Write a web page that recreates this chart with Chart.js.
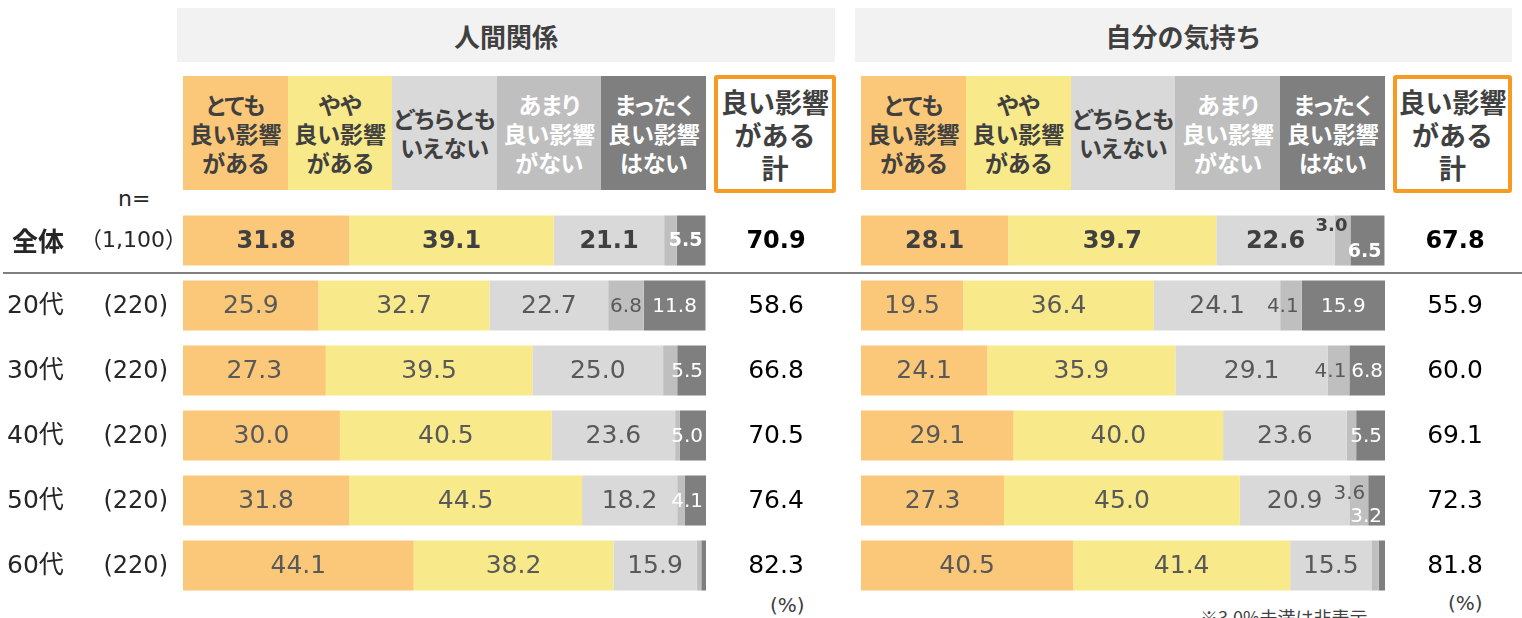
<!DOCTYPE html>
<html lang="ja">
<head>
<meta charset="UTF-8">
<title>良い影響がある 計</title>
<script src="https://cdn.jsdelivr.net/npm/chart.js"></script>
<style>
  body { margin: 0; width: 1522px; height: 618px; overflow: hidden; background: #fff; position: relative;
         font-family: 'DejaVu Sans', 'Noto Sans CJK JP', sans-serif; color: #262626; }
  .abs { position: absolute; }
  .title { background: #f2f2f2; color: #404040; font: bold 26px 'Noto Sans CJK JP', sans-serif;
           display: flex; align-items: center; justify-content: center; }
  .leg { display: flex; align-items: center; justify-content: center; text-align: center; white-space: nowrap;
         font: bold 23px/29px 'Noto Sans CJK JP', sans-serif; font-feature-settings: "palt"; }
  .tot { border: 4px solid #f59b23; border-radius: 3px; box-sizing: border-box; background: #fff; color: #404040;
         font: bold 27px/33px 'Noto Sans CJK JP', sans-serif; }
  .note { font: 20px 'DejaVu Sans', sans-serif; color: #404040; }
  canvas { position: absolute; }
</style>
</head>
<body>
<div id="hdr"></div>
<div class="abs" style="left:118px;top:186px;font-size:22px;">n=</div>
<div class="abs note" style="left:770px;top:593px;">(%)</div>
<div class="abs note" style="left:1448px;top:591px;">(%)</div>
<div class="abs" style="left:1200px;top:604px;font:18px 'Noto Sans CJK JP',sans-serif;color:#404040;">※3.0%未満は非表示</div>
<canvas id="relChart" width="850" height="418" style="left:0;top:200px;"></canvas>
<canvas id="selfChart" width="672" height="418" style="left:850px;top:200px;"></canvas>

<script>
  const rows = ['全体', '20代', '30代', '40代', '50代', '60代'];
  const ns = ['（1,100）', '(220)', '(220)', '(220)', '(220)', '(220)'];
  const cats = ['とても\n良い影響\nがある', 'やや\n良い影響\nがある', 'どちらとも\nいえない', 'あまり\n良い影響\nがない', 'まったく\n良い影響\nはない'];
  const totalLabel = '良い影響\nがある\n計';
  const panels = ['人間関係', '自分の気持ち'];

  // 人間関係
  const rel1 = [31.8, 25.9, 27.3, 30.0, 31.8, 44.1];
  const rel2 = [39.1, 32.7, 39.5, 40.5, 44.5, 38.2];
  const rel3 = [21.1, 22.7, 25.0, 23.6, 18.2, 15.9];
  const rel4 = [2.4, 6.8, 2.7, 0.9, 1.4, 0.9];
  const rel5 = [5.5, 11.8, 5.5, 5.0, 4.1, 0.9];
  const relTotal = [70.9, 58.6, 66.8, 70.5, 76.4, 82.3];

  // 自分の気持ち
  const self1 = [28.1, 19.5, 24.1, 29.1, 27.3, 40.5];
  const self2 = [39.7, 36.4, 35.9, 40.0, 45.0, 41.4];
  const self3 = [22.6, 24.1, 29.1, 23.6, 20.9, 15.5];
  const self4 = [3.0, 4.1, 4.1, 1.8, 3.6, 1.4];
  const self5 = [6.5, 15.9, 6.8, 5.5, 3.2, 1.2];
  const selfTotal = [67.8, 55.9, 60.0, 69.1, 72.3, 81.8];

  const colors = ['#fac878', '#f8e98b', '#d9d9d9', '#bfbfbf', '#7f7f7f'];
  const legTextColors = ['#404040', '#404040', '#404040', '#ffffff', '#ffffff'];

  // small labels that sit above/below the bar centre (row-segment : dy)
  const nudges = { '0-3': -15, '0-4': 11, '4-3': -8, '4-4': 15 };

  // header boxes
  const hdr = document.getElementById('hdr');
  const hdrLayout = [
    { titleX: 177, titleW: 658, legX: 183, legW: 523, totX: 714, totW: 122 },
    { titleX: 855, titleW: 657, legX: 861, legW: 524, totX: 1393, totW: 119 }
  ];
  hdrLayout.forEach((h, p) => {
    hdr.innerHTML += `<div class="abs title" style="left:${h.titleX}px;top:8px;width:${h.titleW}px;height:54px;">${panels[p]}</div>`;
    const w = h.legW / cats.length;
    cats.forEach((c, i) => {
      hdr.innerHTML += `<div class="abs leg" style="left:${h.legX + i * w}px;top:76px;width:${w + 0.5}px;height:114px;background:${colors[i]};color:${legTextColors[i]};">${c.replace(/\n/g, '<br>')}</div>`;
    });
    hdr.innerHTML += `<div class="abs leg tot" style="left:${h.totX}px;top:75px;width:${h.totW}px;height:118px;">${totalLabel.replace(/\n/g, '<br>')}</div>`;
  });

  function labelPlugin(totals, withRows, sepFrom, sepTo) {
    return {
      id: 'labels',
      afterDatasetsDraw(chart) {
        const ctx = chart.ctx, y = chart.scales.y, area = chart.chartArea;
        ctx.save();
        // separator under 全体
        const ySep = (y.getPixelForValue(0) + y.getPixelForValue(1)) / 2;
        ctx.strokeStyle = '#7f7f7f'; ctx.lineWidth = 2;
        ctx.beginPath(); ctx.moveTo(sepFrom, ySep); ctx.lineTo(sepTo, ySep); ctx.stroke();

        ctx.textBaseline = 'middle';
        chart.data.datasets.forEach((ds, di) => {
          chart.getDatasetMeta(di).data.forEach((el, ri) => {
            const v = ds.data[ri];
            if (v < 3.0) return;
            const p = el.getProps(['x', 'y', 'base'], true);
            const l = Math.min(p.x, p.base), r = Math.max(p.x, p.base);
            const bold = ri === 0, small = di >= 3;
            let size = small ? (bold ? 19 : 20) : (bold ? 24 : 25);
            if (withRows === false && ri === 0 && di === 3) size = 18;
            ctx.font = `${bold ? 'bold ' : ''}${size}px 'DejaVu Sans'`;
            ctx.fillStyle = di === 4 ? '#ffffff' : (bold ? '#404040' : '#595959');
            const txt = v.toFixed(1);
            const tw = ctx.measureText(txt).width;
            let cx = (l + r) / 2;
            if (tw > r - l - 2) cx = r - 3 - tw / 2;
            const key = ri + '-' + di;
            const dy = (!withRows && nudges[key] !== undefined) ? nudges[key] : 0;
            ctx.textAlign = 'center';
            ctx.fillText(txt, cx, p.y + dy + 1);
          });
        });

        // totals column
        ctx.fillStyle = '#000';
        ctx.textAlign = 'center';
        totals.forEach((t, i) => {
          ctx.font = i === 0 ? "bold 24px 'DejaVu Sans'" : "25px 'DejaVu Sans'";
          ctx.fillText(t.toFixed(1), area.right + 70, y.getPixelForValue(i) + 1);
        });

        // row labels
        if (withRows) {
          ctx.fillStyle = '#262626';
          rows.forEach((r, i) => {
            const yy = y.getPixelForValue(i) + 1;
            ctx.textAlign = 'left';
            ctx.font = i === 0 ? "bold 26px 'Noto Sans CJK JP'" : "25px 'DejaVu Sans', 'Noto Sans CJK JP'";
            ctx.fillText(r, i === 0 ? 12 : 7, yy);
            ctx.textAlign = 'right';
            ctx.font = i === 0 ? "22px 'DejaVu Sans', 'Noto Sans CJK JP'" : "24px 'DejaVu Sans'";
            ctx.fillText(ns[i], i === 0 ? 187 : 168, yy);
          });
        }
        ctx.restore();
      }
    };
  }

  function makeChart(id, series, totals, withRows, pad, sepFrom, sepTo) {
    return new Chart(document.getElementById(id), {
      type: 'bar',
      data: {
        labels: rows,
        datasets: series.map((d, i) => ({
          label: cats[i].replace(/\n/g, ''), data: d, backgroundColor: colors[i], borderWidth: 0,
          categoryPercentage: 1, barPercentage: 0.77
        }))
      },
      options: {
        indexAxis: 'y', responsive: false, animation: false,
        layout: { padding: pad },
        scales: {
          x: { stacked: true, min: 0, max: 100, display: false },
          y: { stacked: true, display: false }
        },
        plugins: { legend: { display: false }, tooltip: { enabled: false } }
      },
      plugins: [labelPlugin(totals, withRows, sepFrom, sepTo)]
    });
  }

  makeChart('relChart', [rel1, rel2, rel3, rel4, rel5], relTotal, true,
    { left: 183, right: 144, top: 8, bottom: 20 }, 3, 850);
  makeChart('selfChart', [self1, self2, self3, self4, self5], selfTotal, false,
    { left: 11, right: 137, top: 8, bottom: 20 }, 0, 672);
</script>
</body>
</html>
